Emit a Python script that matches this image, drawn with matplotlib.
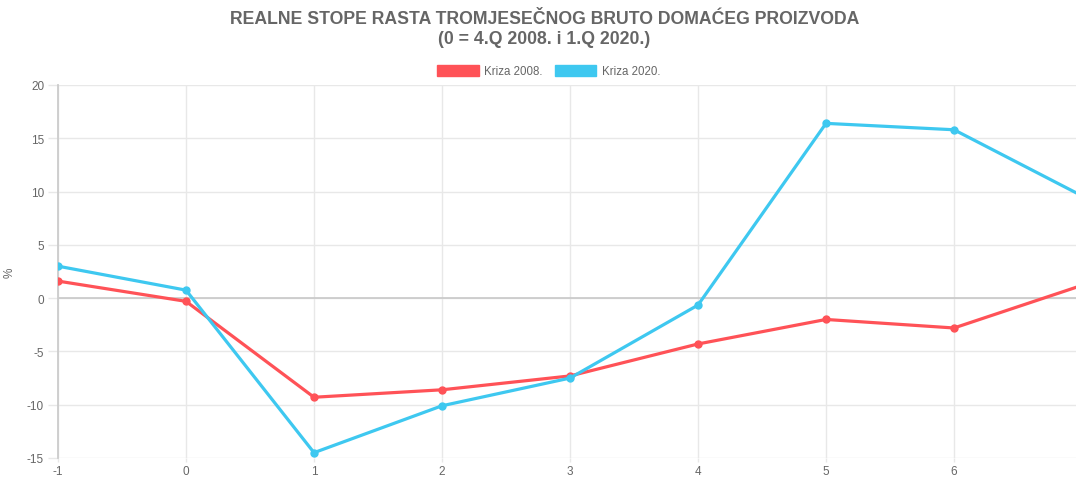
"""
Realne stope rasta tromjesecnog BDP-a: kriza 2008. vs kriza 2020.
"""
import matplotlib
matplotlib.use('Agg')
import matplotlib.pyplot as plt
from matplotlib.patches import Patch

# quarters relative to the start of the crisis (0 = 4.Q 2008. / 1.Q 2020.)
quarters = [-1, 0, 1, 2, 3, 4, 5, 6, 7]
kriza_2008 = [1.6, -0.3, -9.3, -8.6, -7.3, -4.3, -2.0, -2.8, 1.2]
kriza_2020 = [3.0, 0.75, -14.5, -10.1, -7.5, -0.65, 16.4, 15.8, 9.6]
tick_quarters = [-1, 0, 1, 2, 3, 4, 5, 6]

red = '#ff5257'
blue = '#3ec8f0'
grey = '#666666'

plt.rcParams['font.family'] = ['Liberation Sans', 'DejaVu Sans']
plt.rcParams['axes.unicode_minus'] = False

fig = plt.figure(figsize=(10.76, 4.81), dpi=100)
ax = fig.add_axes([58 / 1076, 1 - 459 / 481, 1024 / 1076, 373 / 481])

ax.plot(quarters, kriza_2008, color=red, lw=2.3, marker='o', ms=5, zorder=3)
ax.plot(quarters, kriza_2020, color=blue, lw=2.3, marker='o', ms=5, zorder=3)

ax.set_xlim(-1, 7)
ax.set_ylim(-15, 20)
ax.set_xticks(tick_quarters)
ax.set_yticks(range(-15, 21, 5))

ax.grid(True, color='#e8e8e8', lw=1)
ax.axhline(0, color='#c8c8c8', lw=1.2, zorder=1)
ax.set_axisbelow(True)
for side in ['top', 'right', 'bottom']:
    ax.spines[side].set_visible(False)
ax.spines['left'].set_color('#cccccc')
ax.spines['left'].set_linewidth(1.3)
ax.tick_params(colors=grey, labelsize=8.5, width=1)
ax.tick_params(axis='y', length=7, pad=3)
ax.tick_params(axis='x', length=3, pad=2)
ax.tick_params(axis='both', color='#e8e8e8')
ax.set_ylabel('%', color=grey, fontsize=8.5, labelpad=8)

fig.suptitle('REALNE STOPE RASTA TROMJESEČNOG BRUTO DOMAĆEG PROIZVODA\n(0 = 4.Q 2008. i 1.Q 2020.)',
             x=0.506, y=0.978, fontsize=12.7, fontweight='bold', color=grey, linespacing=1.25)

handles = [Patch(facecolor=red, edgecolor=red), Patch(facecolor=blue, edgecolor=blue)]
fig.legend(handles, ['Kriza 2008.', 'Kriza 2020.'], loc='center', bbox_to_anchor=(0.51, 1 - 72 / 481),
           ncol=2, frameon=False, fontsize=8.3, handlelength=3.6, handleheight=1.1,
           handletextpad=0.5, columnspacing=1.0, labelcolor=grey)

fig.savefig('out.png', dpi=100)
